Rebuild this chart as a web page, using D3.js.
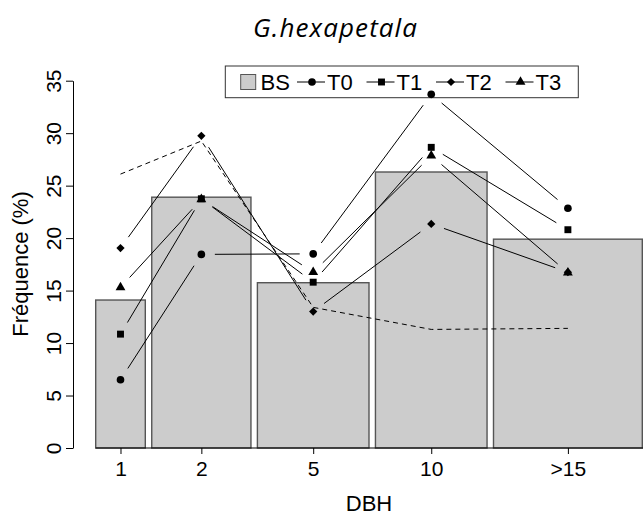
<!DOCTYPE html>
<html>
  <head>
    <meta charset="utf-8" />
    <title>G.hexapetala</title>
    <script src="https://d3js.org/d3.v7.min.js"></script>
    <style>
        body {
            margin: 0;
            background: #fff;
        }
        text {
            font-family: "Liberation Sans", Arial, sans-serif;
        }
    </style>
  </head>
  <body>
    <svg id="chart"></svg>

    <script>
        // classes and bar data
        var categories = ["1", "2", "5", "10", ">15"];
        var barWidths = [1, 2, 2.25, 2.25, 3]; // relative bar widths
        var bsValues = [14.1, 23.9, 15.75, 26.3, 19.9];

        // line series
        var t0 = [6.5, 18.45, 18.5, 33.7, 22.85];
        var t1 = [10.85, 23.75, 15.8, 28.65, 20.8];
        var t2 = [19.05, 29.75, 13.0, 21.35, 16.75];
        var t3 = [15.3, 23.7, 16.75, 27.85, 16.7];
        var dashed = [26.1, 29.25, 13.4, 11.3, 11.4];

        var yTicks = [0, 5, 10, 15, 20, 25, 30, 35];
        var space = 0.13;

        var width = 643;
        var height = 519;

        var svg = d3.select("#chart").attr("width", width).attr("height", height);

        // left edge of every bar in width units
        var lefts = [];
        var pos = 0;
        barWidths.forEach(function(w) {
            pos += space;
            lefts.push(pos);
            pos += w;
        });
        var centers = lefts.map(function(l, i) { return l + barWidths[i] / 2; });

        var x = d3.scaleLinear().domain([0, pos]).range([89.25, 642.3]);
        var y = d3.scaleLinear().domain([0, 35]).range([448, 80.7]);

        // bars
        svg.append("g").selectAll("rect")
            .data(bsValues)
            .enter().append("rect")
            .attr("x", function(d, i) { return x(lefts[i]); })
            .attr("width", function(d, i) { return x(lefts[i] + barWidths[i]) - x(lefts[i]); })
            .attr("y", function(d) { return y(d); })
            .attr("height", function(d) { return y(0) - y(d); })
            .attr("fill", "#cccccc")
            .attr("stroke", "#555")
            .attr("stroke-width", 1.4);

        // bottom line
        svg.append("line")
            .attr("x1", x(lefts[0])).attr("x2", width)
            .attr("y1", y(0)).attr("y2", y(0))
            .attr("stroke", "#000").attr("stroke-width", 1);

        // y axis
        var yAxis = svg.append("g")
            .attr("transform", "translate(73,0)")
            .call(d3.axisLeft(y).tickValues(yTicks).tickSize(7).tickSizeOuter(0));
        yAxis.select(".domain").attr("stroke", "#000");
        yAxis.selectAll("text")
            .attr("transform", "rotate(-90)")
            .attr("x", 0).attr("y", -12).attr("dy", 0)
            .style("text-anchor", "middle")
            .style("font-size", "21px")
            .attr("fill", "#000");

        // x axis ticks
        var xAxis = svg.append("g")
            .attr("transform", "translate(0," + y(0) + ")")
            .call(d3.axisBottom(x).tickValues(centers).tickSize(6)
                .tickFormat(function(d, i) { return categories[i]; }));
        xAxis.select(".domain").remove();
        xAxis.selectAll("text")
            .attr("y", 28).attr("dy", 0)
            .style("font-size", "21px")
            .attr("fill", "#000");

        // axis titles
        svg.append("text")
            .attr("x", 369).attr("y", 511)
            .attr("text-anchor", "middle")
            .style("font-size", "22px")
            .text("DBH");

        svg.append("text")
            .attr("transform", "translate(28,264) rotate(-90)")
            .attr("text-anchor", "middle")
            .style("font-size", "22px")
            .text("Fréquence (%)");

        svg.append("text")
            .attr("x", 335).attr("y", 37)
            .attr("text-anchor", "middle")
            .attr("textLength", 164)
            .attr("lengthAdjust", "spacing")
            .style("font-family", "'Open Sans', Lato, sans-serif")
            .style("font-style", "italic")
            .style("font-size", "26px")
            .text("G.hexapetala");

        // symbols
        var symbols = {
            T0: d3.symbol().type(d3.symbolCircle).size(46),
            T1: d3.symbol().type(d3.symbolSquare).size(48),
            T2: d3.symbol().type(d3.symbolSquare).size(34),
            T3: d3.symbol().type(d3.symbolTriangle).size(42)
        };
        var rot = { T0: 0, T1: 0, T2: 45, T3: 0 };

        // legend
        var legend = svg.append("g");
        legend.append("rect")
            .attr("x", 225.3).attr("y", 66)
            .attr("width", 353).attr("height", 31.7)
            .attr("fill", "#fff").attr("stroke", "#333").attr("stroke-width", 1);
        legend.append("rect")
            .attr("x", 240.7).attr("y", 74.5)
            .attr("width", 15).attr("height", 15)
            .attr("fill", "#cccccc").attr("stroke", "#555").attr("stroke-width", 1);
        legend.append("text")
            .attr("x", 260.5).attr("y", 89.5)
            .style("font-size", "22px")
            .text("BS");

        var names = ["T0", "T1", "T2", "T3"];
        names.forEach(function(n, k) {
            var x0 = 297 + 69.5 * k;
            legend.append("line")
                .attr("x1", x0).attr("x2", x0 + 28)
                .attr("y1", 82).attr("y2", 82)
                .attr("stroke", "#000").attr("stroke-width", 1);
            legend.append("path")
                .attr("d", symbols[n]())
                .attr("transform", "translate(" + (x0 + 15) + ",82) rotate(" + rot[n] + ")")
                .attr("fill", "#000");
            legend.append("text")
                .attr("x", x0 + 30).attr("y", 89.5)
                .style("font-size", "22px")
                .text(n);
        });

        // dashed line
        svg.append("path")
            .datum(dashed)
            .attr("d", d3.line()
                .x(function(d, i) { return x(centers[i]); })
                .y(function(d) { return y(d); }))
            .attr("fill", "none")
            .attr("stroke", "#000")
            .attr("stroke-width", 1)
            .attr("stroke-dasharray", "5,4");

        // series drawn as points with gapped segments
        var series = [
            { name: "T0", values: t0 },
            { name: "T1", values: t1 },
            { name: "T2", values: t2 },
            { name: "T3", values: t3 }
        ];
        var gap = 13.5;

        series.forEach(function(s) {
            var pts = s.values.map(function(v, i) { return [x(centers[i]), y(v)]; });
            var segs = [];
            for (var i = 0; i < pts.length - 1; i++) {
                var dx = pts[i + 1][0] - pts[i][0];
                var dy = pts[i + 1][1] - pts[i][1];
                var len = Math.sqrt(dx * dx + dy * dy);
                if (len <= 2 * gap) continue;
                var ux = dx / len, uy = dy / len;
                segs.push([pts[i][0] + ux * gap, pts[i][1] + uy * gap,
                           pts[i + 1][0] - ux * gap, pts[i + 1][1] - uy * gap]);
            }
            svg.append("g").selectAll("line")
                .data(segs)
                .enter().append("line")
                .attr("x1", function(d) { return d[0]; })
                .attr("y1", function(d) { return d[1]; })
                .attr("x2", function(d) { return d[2]; })
                .attr("y2", function(d) { return d[3]; })
                .attr("stroke", "#000")
                .attr("stroke-width", 1);

            svg.append("g").selectAll("path")
                .data(pts)
                .enter().append("path")
                .attr("d", symbols[s.name]())
                .attr("transform", function(d) {
                    return "translate(" + d[0] + "," + d[1] + ") rotate(" + rot[s.name] + ")";
                })
                .attr("fill", "#000");
        });
    </script>
  </body>
</html>
